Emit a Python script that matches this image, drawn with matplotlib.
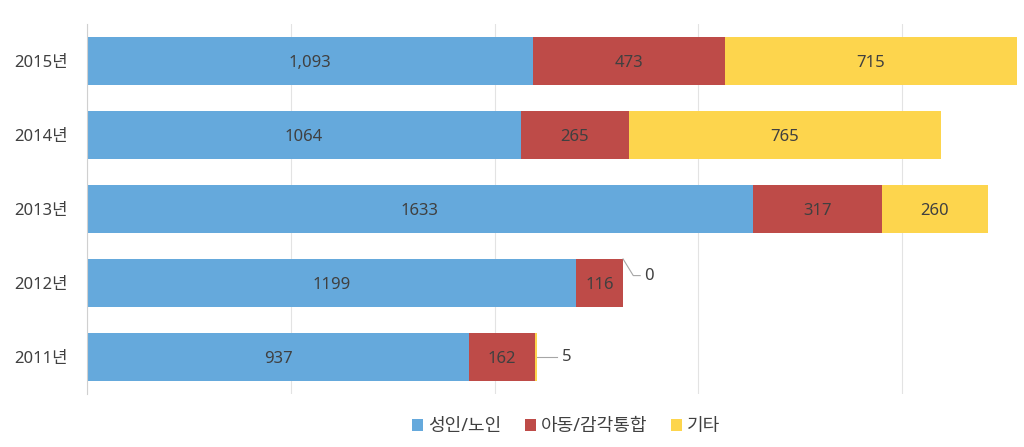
import matplotlib
matplotlib.use("Agg")
import matplotlib.pyplot as plt
import numpy as np

plt.rcParams['font.family'] = ['Noto Sans', 'Noto Sans CJK KR', 'DejaVu Sans']

years = ['2011년', '2012년', '2013년', '2014년', '2015년']
adult = [937, 1199, 1633, 1064, 1093]
child = [162, 116, 317, 265, 473]
other = [5, 0, 260, 765, 715]
adult_labels = ['937', '1199', '1633', '1064', '1,093']
child_labels = ['162', '116', '317', '265', '473']
other_labels = ['5', '0', '260', '765', '715']
series_names = ['성인/노인', '아동/감각통합', '기타']
colors = ['#65A9DC', '#BE4B48', '#FDD54D']

fig = plt.figure(figsize=(10.24, 4.47), dpi=100)
ax = fig.add_axes([0.085, 0.1186, 0.91, 0.8277])

y = np.arange(len(years))
h = 0.65
a = np.array(adult); c = np.array(child); o = np.array(other)
b1 = ax.barh(y, a, height=h, color=colors[0], label=series_names[0], zorder=2)
b2 = ax.barh(y, c, left=a, height=h, color=colors[1], label=series_names[1], zorder=2)
b3 = ax.barh(y, o, left=a + c, height=h, color=colors[2], label=series_names[2], zorder=2)

tc = '#404040'
fs = 12
for i in range(len(years)):
    ax.text(a[i] / 2, y[i] - 0.03, adult_labels[i], ha='center', va='center', fontsize=fs, color=tc, zorder=3)
    ax.text(a[i] + c[i] / 2, y[i] - 0.03, child_labels[i], ha='center', va='center', fontsize=fs, color=tc, zorder=3)
    if o[i] >= 100:
        ax.text(a[i] + c[i] + o[i] / 2, y[i] - 0.03, other_labels[i], ha='center', va='center', fontsize=fs, color=tc, zorder=3)

# leader-line labels
end1 = a[1] + c[1] + o[1]
ax.plot([end1, end1 + 25, end1 + 42], [y[1] + h / 2, y[1] + 0.1, y[1] + 0.1], color='#A6A6A6', lw=0.8, zorder=3)
ax.text(end1 + 52, y[1] + 0.1, other_labels[1], ha='left', va='center', fontsize=fs, color=tc)
end0 = a[0] + c[0] + o[0]
ax.plot([end0, end0 + 50], [y[0], y[0]], color='#A6A6A6', lw=0.8, zorder=3)
ax.text(end0 + 60, y[0], other_labels[0], ha='left', va='center', fontsize=fs, color=tc)

ax.set_xlim(0, 2286)
ax.set_ylim(-0.5, 4.5)
ax.set_yticks(y)
ax.set_yticklabels(years, fontsize=12, color=tc)
ax.set_xticks([0, 500, 1000, 1500, 2000])
ax.set_xticklabels([])
ax.tick_params(axis='x', length=0)
ax.tick_params(axis='y', length=0, pad=14)
ax.grid(axis='x', color='#E3E3E3', lw=0.8, zorder=0)
for s in ['top', 'right', 'bottom']:
    ax.spines[s].set_visible(False)
ax.spines['left'].set_color('#D0D0D0')
ax.spines['left'].set_linewidth(0.8)

leg = fig.legend(handles=[b1, b2, b3], labels=series_names, loc='center', bbox_to_anchor=(0.553, 0.046),
                 ncol=3, frameon=False, fontsize=13, handlelength=0.6, handleheight=0.6,
                 handletextpad=0.3, columnspacing=1.3, labelcolor=tc)

fig.savefig('out.png', dpi=100)
